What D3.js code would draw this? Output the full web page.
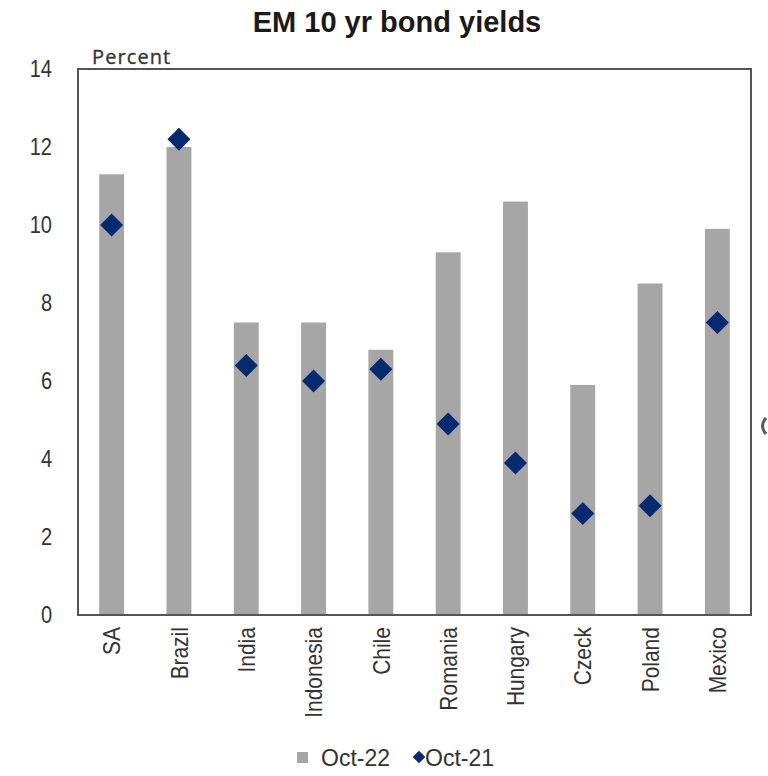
<!DOCTYPE html>
<html>
<head>
<meta charset="utf-8">
<script src="https://cdn.jsdelivr.net/npm/d3@7"></script>
<style>
  html, body { margin: 0; padding: 0; background: #fff; }
  svg { display: block; }
  .narrow { font-family: "Liberation Sans Narrow", "Arial Narrow", "Liberation Sans", Arial, sans-serif; }
</style>
</head>
<body>
<svg id="chart" width="768" height="776"></svg>
<script>
// EM 10-year government bond yields, percent
const countries = ["SA", "Brazil", "India", "Indonesia", "Chile", "Romania", "Hungary", "Czeck", "Poland", "Mexico"];
const oct22 = [11.3, 12.0, 7.5, 7.5, 6.8, 9.3, 10.6, 5.9, 8.5, 9.9];
const oct21 = [10.0, 12.2, 6.4, 6.0, 6.3, 4.9, 3.9, 2.6, 2.8, 7.5];
const yTicks = [0, 2, 4, 6, 8, 10, 12, 14];
const seriesNames = ["Oct-22", "Oct-21"];

const barColor = "#a6a6a6";
const dotColor = "#06296f";
const textColor = "#333333";
const condense = 0.87; // horizontal squeeze for a narrow face

const svg = d3.select("#chart");
const frame = { left: 78, right: 751, top: 69, bottom: 615 };

const x = d3.scaleBand()
  .domain(countries)
  .range([frame.left, frame.right])
  .paddingInner(0.63)
  .paddingOuter(0.315);

const y = d3.scaleLinear()
  .domain([0, 14])
  .range([frame.bottom, frame.top]);

// Title
svg.append("text")
  .attr("class", "narrow")
  .attr("x", 397)
  .attr("y", 32)
  .attr("text-anchor", "middle")
  .attr("font-size", 29)
  .attr("font-weight", "bold")
  .attr("fill", "#1a1a1a")
  .text("EM 10 yr bond yields");

// Unit label
svg.append("text")
  .attr("x", 92)
  .attr("y", 64)
  .attr("font-family", "'Open Sans', 'Noto Sans', sans-serif")
  .attr("font-size", 20)
  .attr("letter-spacing", 1.1)
  .attr("fill", "#333333")
  .attr("stroke", "#333333")
  .attr("stroke-width", 0.3)
  .text("Percent");

// Bars (Oct-22)
svg.append("g")
  .selectAll("rect")
  .data(countries)
  .join("rect")
  .attr("x", d => x(d))
  .attr("width", x.bandwidth())
  .attr("y", (d, i) => y(oct22[i]))
  .attr("height", (d, i) => y(0) - y(oct22[i]))
  .attr("fill", barColor);

// Diamonds (Oct-21)
const diamond = d3.symbol().type(d3.symbolSquare).size(265);
svg.append("g")
  .selectAll("path")
  .data(countries)
  .join("path")
  .attr("d", diamond)
  .attr("transform", (d, i) => `translate(${x(d) + x.bandwidth() / 2},${y(oct21[i])}) rotate(45)`)
  .attr("fill", dotColor);

// Plot frame
svg.append("rect")
  .attr("x", frame.left)
  .attr("y", frame.top)
  .attr("width", frame.right - frame.left)
  .attr("height", frame.bottom - frame.top)
  .attr("fill", "none")
  .attr("stroke", "#555555")
  .attr("stroke-width", 2);

// Y axis labels
const yAxis = d3.axisLeft(y).tickValues(yTicks).tickSize(0).tickPadding(0);
const gy = svg.append("g")
  .attr("class", "narrow")
  .attr("transform", "translate(52,0)")
  .call(yAxis);
gy.select(".domain").remove();
gy.selectAll("text")
  .attr("font-family", null)
  .attr("font-size", 23)
  .attr("fill", textColor)
  .attr("transform", `scale(${condense},1)`);

// Category labels, rotated
const xAxis = d3.axisBottom(x).tickSize(0).tickPadding(0);
const gx = svg.append("g")
  .attr("class", "narrow")
  .attr("transform", `translate(0,${frame.bottom})`)
  .call(xAxis);
gx.select(".domain").remove();
gx.selectAll("text")
  .attr("font-family", null)
  .attr("font-size", 24)
  .attr("fill", textColor)
  .attr("text-anchor", "end")
  .attr("transform", `rotate(-90) scale(${condense},1)`)
  .attr("x", -14)
  .attr("y", 0)
  .attr("dy", "0.36em");

// Legend
const legend = svg.append("g").attr("class", "narrow");
legend.append("rect")
  .attr("x", 297).attr("y", 752).attr("width", 11).attr("height", 11)
  .attr("fill", barColor);
legend.append("text")
  .attr("x", 321).attr("y", 766)
  .attr("font-size", 23).attr("fill", textColor)
  .text(seriesNames[0]);
legend.append("path")
  .attr("d", d3.symbol().type(d3.symbolSquare).size(80))
  .attr("transform", "translate(419,757) rotate(45)")
  .attr("fill", dotColor);
legend.append("text")
  .attr("x", 425).attr("y", 766)
  .attr("font-size", 23).attr("fill", textColor)
  .text(seriesNames[1]);

// Fragment of a glyph at the right edge
svg.append("path")
  .attr("d", "M766,418 Q759,426 766,434")
  .attr("fill", "none")
  .attr("stroke", "#5a5a5a")
  .attr("stroke-width", 3);
</script>
</body>
</html>
